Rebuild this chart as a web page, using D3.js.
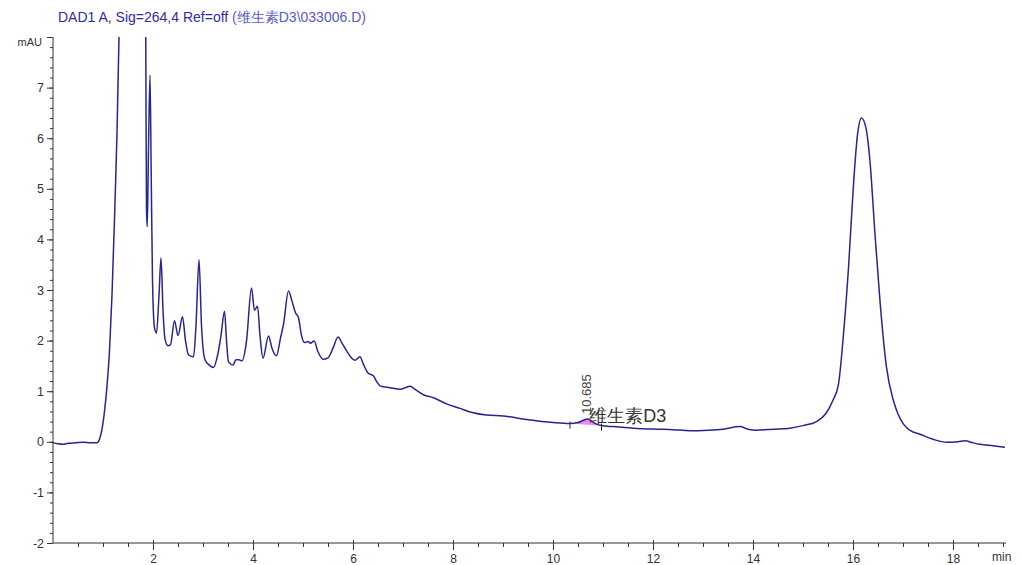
<!DOCTYPE html>
<html>
<head>
<meta charset="utf-8">
<script src="https://cdn.jsdelivr.net/npm/d3@7"></script>
<style>
  body { margin: 0; background: #fff; }
  text { font-family: "Liberation Sans", Arial, sans-serif; }
</style>
</head>
<body>
<div id="chart"></div>
<script>
const width = 1022,
    height = 565;

// retention time (min) and signal (mAU)
const times = [0.00, 0.10, 0.20, 0.30, 0.45, 0.60, 0.75, 0.88, 0.93, 0.98,
    1.03, 1.08, 1.13, 1.18, 1.23, 1.28, 1.32, 1.36, 1.45, 1.60,
    1.75, 1.83, 1.855, 1.87, 1.885, 1.91, 1.94, 1.965, 1.99, 2.03,
    2.07, 2.12, 2.16, 2.20, 2.24, 2.30, 2.35, 2.43, 2.50, 2.59,
    2.65, 2.71, 2.81, 2.86, 2.92, 2.97, 3.04, 3.12, 3.21, 3.30,
    3.36, 3.43, 3.47, 3.51, 3.60, 3.66, 3.72, 3.78, 3.87, 3.97,
    4.03, 4.09, 4.14, 4.20, 4.31, 4.38, 4.47, 4.55, 4.61, 4.71,
    4.78, 4.85, 4.91, 4.97, 5.03, 5.10, 5.15, 5.22, 5.30, 5.40,
    5.50, 5.60, 5.70, 5.78, 5.87, 5.95, 6.04, 6.14, 6.20, 6.30,
    6.41, 6.48, 6.55, 6.74, 6.94, 7.05, 7.14, 7.25, 7.41, 7.61,
    7.87, 8.14, 8.34, 8.67, 9.00, 9.47, 10.00, 10.34, 10.50, 10.62,
    10.69, 10.76, 10.85, 10.97, 11.20, 11.60, 12.07, 12.40, 12.74, 13.10,
    13.40, 13.74, 13.90, 14.07, 14.40, 14.74, 15.00, 15.27, 15.45, 15.60,
    15.71, 15.81, 15.91, 16.01, 16.09, 16.17, 16.26, 16.34, 16.44, 16.54,
    16.67, 16.81, 16.90, 17.01, 17.15, 17.34, 17.60, 17.87, 18.10, 18.24,
    18.40, 18.54, 18.80, 19.04];
const signal = [-0.02, -0.04, -0.05, -0.03, -0.02, -0.01, -0.02, -0.02, 0.05, 0.25,
    0.60, 1.10, 1.80, 2.90, 4.40, 6.10, 8.00, 10.5, 16.0, 20.0,
    16.0, 10.5, 8.00, 4.60, 4.25, 5.80, 7.25, 5.20, 3.20, 2.25,
    2.15, 2.90, 3.63, 2.60, 2.03, 1.90, 1.92, 2.39, 2.10, 2.47,
    2.00, 1.72, 1.68, 2.30, 3.60, 2.30, 1.62, 1.52, 1.47, 1.75,
    2.10, 2.58, 2.00, 1.58, 1.52, 1.62, 1.62, 1.60, 1.99, 3.04,
    2.60, 2.68, 2.10, 1.65, 2.09, 1.85, 1.70, 2.05, 2.32, 2.98,
    2.78, 2.55, 2.45, 2.10, 1.96, 1.98, 1.95, 1.99, 1.78, 1.63,
    1.66, 1.85, 2.07, 1.95, 1.80, 1.68, 1.61, 1.68, 1.55, 1.36,
    1.30, 1.18, 1.10, 1.07, 1.04, 1.07, 1.10, 1.03, 0.93, 0.87,
    0.75, 0.66, 0.59, 0.53, 0.51, 0.44, 0.38, 0.36, 0.38, 0.43,
    0.45, 0.42, 0.36, 0.32, 0.30, 0.27, 0.25, 0.24, 0.22, 0.23,
    0.25, 0.30, 0.25, 0.23, 0.25, 0.27, 0.32, 0.40, 0.55, 0.82,
    1.14, 2.13, 3.44, 5.09, 6.07, 6.40, 6.20, 5.54, 4.10, 2.78,
    1.47, 0.81, 0.55, 0.35, 0.22, 0.15, 0.05, -0.01, 0.00, 0.02,
    -0.02, -0.05, -0.08, -0.11];

// integrated peak
const peakRT = 10.685;
const peakName = "维生素D3";
const peakBaseT = [10.34, 10.97];
const peakBaseV = [0.36, 0.32];

const xMajor = [2, 4, 6, 8, 10, 12, 14, 16, 18];
const yMajor = [-2, -1, 0, 1, 2, 3, 4, 5, 6, 7];

const plotLeft = 53, plotRight = 1006, plotTop = 37, plotBottom = 543;

const x = d3.scaleLinear().domain([0, 19.06]).range([plotLeft, plotRight]);
const y = d3.scaleLinear().domain([-2, 8]).range([plotBottom, plotTop]);

const svg = d3.select("#chart")
    .append("svg")
    .attr("width", width)
    .attr("height", height);

const data = times.map((t, i) => ({ t: t, v: signal[i] }));

svg.append("clipPath")
    .attr("id", "plot-clip")
    .append("rect")
    .attr("x", plotLeft)
    .attr("y", plotTop)
    .attr("width", plotRight - plotLeft)
    .attr("height", plotBottom - plotTop);

// title
const title = svg.append("text")
    .attr("x", 58)
    .attr("y", 22)
    .style("font-size", "14px");
title.append("tspan").text("DAD1 A, Sig=264,4 Ref=off ").attr("fill", "#2e2e9e");
title.append("tspan").text("(维生素D3\\033006.D)").attr("fill", "#5a5ac8");

// peak fill
const base = d3.scaleLinear().domain(peakBaseT).range(peakBaseV);
const peakPts = data.filter(d => d.t >= peakBaseT[0] && d.t <= peakBaseT[1]);
svg.append("path")
    .datum(peakPts)
    .attr("fill", "#f06cf0")
    .attr("opacity", 0.8)
    .attr("d", d3.area()
        .x(d => x(d.t))
        .y0(d => y(base(d.t)))
        .y1(d => y(d.v))
        .curve(d3.curveMonotoneX));

// trace
svg.append("g")
    .attr("clip-path", "url(#plot-clip)")
    .append("path")
    .datum(data)
    .attr("fill", "none")
    .attr("stroke", "#26268e")
    .attr("stroke-width", 1.5)
    .attr("stroke-linejoin", "round")
    .attr("d", d3.line()
        .x(d => x(d.t))
        .y(d => y(d.v))
        .curve(d3.curveMonotoneX));

// baseline marks
peakBaseT.forEach((t, i) => {
    svg.append("line")
        .attr("x1", x(t)).attr("x2", x(t))
        .attr("y1", y(peakBaseV[i]) - 2)
        .attr("y2", y(peakBaseV[i]) + 5)
        .attr("stroke", "#222")
        .attr("stroke-width", 1);
});

// peak labels
const peakTop = data.find(d => d.t >= peakRT);
svg.append("text")
    .text(peakRT.toFixed(3))
    .attr("transform", `translate(${x(peakRT) + 4}, ${y(peakTop.v) - 5}) rotate(-90)`)
    .style("font-size", "13px")
    .attr("fill", "#444");

svg.append("text")
    .text(peakName)
    .attr("x", x(peakRT) + 2)
    .attr("y", y(peakTop.v) + 3)
    .style("font-size", "18px")
    .attr("fill", "#333");

// x axis
const xAxis = svg.append("g").attr("transform", `translate(0, ${plotBottom})`);
xAxis.append("g")
    .call(d3.axisBottom(x).tickValues(d3.range(0.5, 19.01, 0.5)).tickSize(4).tickFormat(""))
    .call(g => g.select(".domain").remove());
xAxis.append("g")
    .call(d3.axisBottom(x).tickValues(xMajor).tickSize(7).tickPadding(4))
    .call(g => g.select(".domain").remove())
    .call(g => g.selectAll(".tick line").attr("y1", -3))
    .call(g => g.selectAll("text").style("font-size", "12px").attr("fill", "#333"));
xAxis.append("line")
    .attr("x1", plotLeft).attr("x2", plotRight)
    .attr("stroke", "#333");
xAxis.selectAll("line").attr("stroke", "#333");
xAxis.append("text")
    .text("min")
    .attr("x", 992)
    .attr("y", 18)
    .style("font-size", "12px")
    .attr("fill", "#333");

// y axis
const yAxis = svg.append("g").attr("transform", `translate(${plotLeft}, 0)`);
yAxis.append("g")
    .call(d3.axisLeft(y).tickValues(d3.range(-2, 8.01, 0.2)).tickSize(3).tickFormat(""))
    .call(g => g.select(".domain").remove());
yAxis.append("g")
    .call(d3.axisLeft(y).tickValues(yMajor.concat([8])).tickSize(6).tickPadding(3)
        .tickFormat(d => d === 8 ? "" : d))
    .call(g => g.select(".domain").remove())
    .call(g => g.selectAll("text").style("font-size", "12.5px").attr("fill", "#333"));
yAxis.append("line")
    .attr("y1", plotTop).attr("y2", plotBottom)
    .attr("stroke", "#333");
yAxis.selectAll("line").attr("stroke", "#333");
yAxis.append("text")
    .text("mAU")
    .attr("x", -11)
    .attr("y", plotTop + 9)
    .attr("text-anchor", "end")
    .style("font-size", "11px")
    .attr("fill", "#333");
</script>
</body>
</html>
